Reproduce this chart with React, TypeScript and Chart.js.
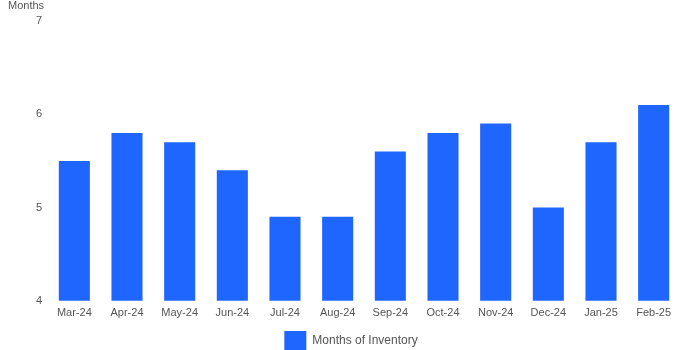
import React, { useEffect, useRef } from "react";
import { Chart, registerables } from "chart.js";

Chart.register(...registerables);

const categories = ["Mar-24", "Apr-24", "May-24", "Jun-24", "Jul-24", "Aug-24", "Sep-24", "Oct-24", "Nov-24", "Dec-24", "Jan-25", "Feb-25"];
const monthsOfInventory = [5.5, 5.8, 5.7, 5.4, 4.9, 4.9, 5.6, 5.8, 5.9, 5.0, 5.7, 6.1];
const seriesName = "Months of Inventory";
const yTitle = "Months";

const FONT = "'Liberation Sans', Arial, sans-serif";
const TEXT = "#555555";

const titlePlugin = {
  id: "topLeftTitle",
  beforeDraw(chart: any) {
    if (chart.legend && !chart.legend._shifted) {
      chart.legend.left += 11;
      chart.legend.right += 11;
      chart.legend._shifted = true;
    }
  },
  afterDraw(chart: any) {
    const ctx = chart.ctx;
    ctx.save();
    ctx.font = `11px ${FONT}`;
    ctx.fillStyle = TEXT;
    ctx.textAlign = "left";
    ctx.textBaseline = "top";
    ctx.fillText(yTitle, 8, 0);
    ctx.restore();
  },
};

export default function App() {
  const ref = useRef<HTMLCanvasElement>(null);
  useEffect(() => {
    document.body.style.margin = "0";
    const chart = new Chart(ref.current!, {
      type: "bar",
      data: {
        labels: categories,
        datasets: [
          {
            label: seriesName,
            data: monthsOfInventory,
            backgroundColor: "#1f66ff",
            categoryPercentage: 0.59,
            barPercentage: 1,
          },
        ],
      },
      options: {
        animation: false,
        responsive: false,
        maintainAspectRatio: false,
        layout: { padding: { top: 21, right: 20, left: 0, bottom: -11 } },
        plugins: {
          legend: {
            position: "bottom",
            labels: {
              boxWidth: 22,
              boxHeight: 20,
              padding: 5,
              color: TEXT,
              font: { family: FONT, size: 12 },
            },
          },
          tooltip: { enabled: false },
        },
        scales: {
          x: {
            grid: { display: false, drawTicks: false },
            border: { display: false },
            ticks: { color: TEXT, font: { family: FONT, size: 11 }, maxRotation: 0, padding: 6 },
          },
          y: {
            min: 4,
            max: 7,
            afterFit(scale: any) {
              scale.width = 48;
            },
            grid: { display: false, drawTicks: false },
            border: { display: false },
            ticks: { stepSize: 1, color: TEXT, font: { family: FONT, size: 11 }, padding: 6 },
          },
        },
      },
      plugins: [titlePlugin],
    });
    return () => chart.destroy();
  }, []);
  return <canvas ref={ref} width={700} height={350} style={{ display: "block" }} />;
}
